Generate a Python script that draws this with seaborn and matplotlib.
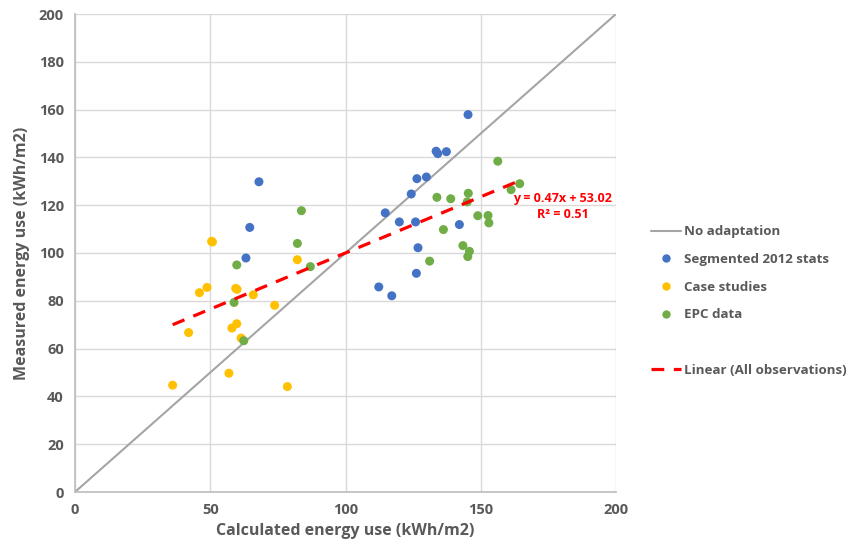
import numpy as np
import pandas as pd
import matplotlib
matplotlib.use("Agg")
import matplotlib.pyplot as plt
import seaborn as sns
from matplotlib.lines import Line2D

# Segmented 2012 stats
seg_x = [68.0, 64.6, 63.2, 112.3, 117.1, 114.7, 119.9, 124.3, 125.9, 126.8,
         126.2, 126.4, 129.9, 133.5, 134.1, 137.3, 142.1, 145.3]
seg_y = [129.8, 110.7, 97.9, 85.8, 82.1, 116.8, 113.0, 124.7, 113.0, 102.2,
         91.5, 131.1, 131.8, 142.6, 141.6, 142.4, 111.9, 157.9]

# Case studies
case_x = [50.5, 50.8, 82.2, 46.0, 48.8, 59.4, 65.9, 73.8, 42.0, 59.8,
          58.0, 61.4, 56.9, 36.1, 78.5, 59.9]
case_y = [104.9, 104.6, 97.2, 83.4, 85.6, 85.2, 82.5, 78.1, 66.7, 70.4,
          68.6, 64.4, 49.7, 44.7, 44.1, 84.8]

# EPC data
epc_x = [83.7, 82.2, 59.8, 87.0, 58.8, 62.4, 156.3, 161.2, 164.4, 133.8,
         138.9, 145.4, 145.0, 148.9, 152.7, 153.0, 136.2, 143.4, 145.8, 145.2, 131.1]
epc_y = [117.7, 104.0, 95.0, 94.3, 79.3, 63.3, 138.4, 126.5, 129.0, 123.3,
         122.7, 125.0, 121.4, 115.6, 115.7, 112.6, 109.8, 103.1, 100.7, 98.5, 96.6]

slope, intercept, r2 = 0.47, 53.02, 0.51

df = pd.concat([
    pd.DataFrame({"x": seg_x, "y": seg_y, "group": "Segmented 2012 stats"}),
    pd.DataFrame({"x": case_x, "y": case_y, "group": "Case studies"}),
    pd.DataFrame({"x": epc_x, "y": epc_y, "group": "EPC data"}),
])

palette = {"Segmented 2012 stats": "#4472C4", "Case studies": "#FFC000", "EPC data": "#70AD47"}
txt = "#595959"

sns.set_theme(style="white")
plt.rcParams["font.family"] = ["Open Sans", "DejaVu Sans"]

fig = plt.figure(figsize=(8.46, 5.53), dpi=100)
ax = fig.add_axes([75 / 846, 61 / 553, 541 / 846, 478 / 553])

ax.plot([0, 200], [0, 200], color="#A5A5A5", lw=1.5, zorder=2)
sns.scatterplot(data=df, x="x", y="y", hue="group", palette=palette, s=42,
                edgecolor="none", legend=False, ax=ax, zorder=3)

tx = np.array([df["x"].min(), df["x"].max()])
ax.plot(tx, slope * tx + intercept, color="#FF0000", lw=2.3, ls=(0, (4, 3)), zorder=4)
ax.text(180.2, 119.5, f"y = {slope}x + {intercept}\nR² = {r2}", color="#FF0000",
        fontsize=9, fontweight="bold", ha="center", va="center", linespacing=1.3)

ax.set_xlim(0, 200)
ax.set_ylim(0, 200)
ax.set_xticks(range(0, 201, 50))
ax.set_yticks(range(0, 201, 20))
ax.grid(True, color="#D9D9D9", lw=1)
ax.set_axisbelow(True)
for side in ["top", "right"]:
    ax.spines[side].set_visible(False)
for side in ["left", "bottom"]:
    ax.spines[side].set_color("#BFBFBF")
ax.tick_params(colors=txt, labelsize=10.5, length=0, pad=8)
for lab in ax.get_xticklabels() + ax.get_yticklabels():
    lab.set_fontweight("bold")
ax.set_xlabel("Calculated energy use (kWh/m2)", fontsize=11.5, fontweight="bold", color=txt, labelpad=4)
ax.set_ylabel("Measured energy use (kWh/m2)", fontsize=11.5, fontweight="bold", color=txt, labelpad=6)

handles = [
    Line2D([], [], color="#A5A5A5", lw=1.5),
    Line2D([], [], marker="o", ls="none", color=palette["Segmented 2012 stats"], markersize=5),
    Line2D([], [], marker="o", ls="none", color=palette["Case studies"], markersize=5),
    Line2D([], [], marker="o", ls="none", color=palette["EPC data"], markersize=5),
    Line2D([], [], ls="none"),
    Line2D([], [], color="#FF0000", lw=2.3, ls=(0, (4, 3))),
]
labels = ["No adaptation", "Segmented 2012 stats", "Case studies", "EPC data", "",
          "Linear (All observations)"]
leg = fig.legend(handles, labels, loc="upper left", bbox_to_anchor=(646 / 846, 1 - 220 / 553),
                 frameon=False, fontsize=9.6, handlelength=2.2, handletextpad=0.25,
                 labelspacing=1.1, borderaxespad=0)
for t in leg.get_texts():
    t.set_color(txt)
    t.set_fontweight("bold")

fig.savefig("out.png", dpi=100)
